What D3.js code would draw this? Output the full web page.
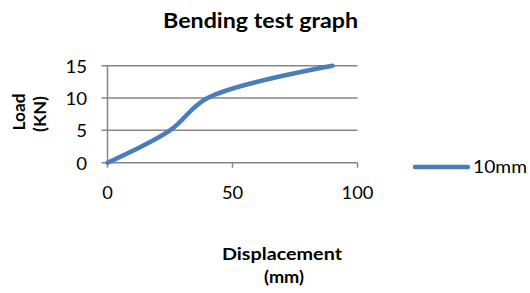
<!DOCTYPE html>
<html><head><meta charset="utf-8">
<script src="https://cdn.jsdelivr.net/npm/d3@7"></script>
<style>body{margin:0;background:#fff;} svg{display:block;font-family:Lato, "Open Sans", sans-serif;fill:#000;}</style>
</head><body><svg id="c" width="530" height="293"></svg>
<script>
const displacement = [0, 25, 40, 90];
const load = [0, 5, 10, 15];
const xTicks = [0, 50, 100];
const yTicks = [0, 5, 10, 15];
const seriesName = "10mm";
const title = "Bending test graph";
const xTitle = ["Displacement", "(mm)"];
const yTitle = ["Load", "(KN)"];

const svg = d3.select("#c");
const x = d3.scaleLinear().domain([0, 100]).range([107.5, 357.5]);
const y = d3.scaleLinear().domain([0, 15]).range([162.7, 65.7]);

function fit(sel, w) {
  sel.attr("textLength", w).attr("lengthAdjust", "spacingAndGlyphs");
}

svg.append("g").selectAll("line").data(yTicks).join("line")
  .attr("x1", x(0) - 6).attr("x2", x(100))
  .attr("y1", d => y(d)).attr("y2", d => y(d))
  .attr("stroke", "#868686").attr("stroke-width", 1.5);
svg.append("line").attr("x1", x(0)).attr("x2", x(0)).attr("y1", y(15)).attr("y2", y(0))
  .attr("stroke", "#868686").attr("stroke-width", 1.5);
svg.append("g").selectAll("line").data(xTicks).join("line")
  .attr("x1", d => x(d)).attr("x2", d => x(d)).attr("y1", y(0)).attr("y2", y(0) + 5)
  .attr("stroke", "#868686").attr("stroke-width", 1.5);

svg.append("g").selectAll("text").data(yTicks).join("text")
  .attr("x", 87).attr("y", d => y(d) + 7).attr("text-anchor", "end")
  .attr("font-size", 17.5).text(d => d)
  .each(function(d){ fit(d3.select(this), String(d).length * 10.8); });
svg.append("g").selectAll("text").data(xTicks).join("text")
  .attr("x", d => x(d)).attr("y", 199).attr("text-anchor", "middle")
  .attr("font-size", 17.5).text(d => d)
  .each(function(d){ fit(d3.select(this), String(d).length * 10.6); });

const pts = displacement.map((d, i) => [d, load[i]]);
svg.append("path").datum(pts)
  .attr("d", d3.line().x(d => x(d[0])).y(d => y(d[1])).curve(d3.curveCatmullRom.alpha(0.5)))
  .attr("fill", "none").attr("stroke", "#4A7EBB").attr("stroke-width", 4.5).attr("stroke-linecap", "round");

svg.append("text").attr("x", 260.5).attr("y", 27.5).attr("text-anchor", "middle")
  .attr("font-size", 21.5).attr("font-weight", "bold").text(title).call(fit, 195);

svg.append("text").attr("transform", "translate(25,112) rotate(-90)").attr("text-anchor", "middle")
  .attr("font-size", 17).attr("font-weight", "bold").text(yTitle[0]).call(fit, 37);
svg.append("text").attr("transform", "translate(45.5,114) rotate(-90)").attr("text-anchor", "middle")
  .attr("font-size", 17).attr("font-weight", "bold").text(yTitle[1]).call(fit, 36);

svg.append("text").attr("x", 282).attr("y", 259.5).attr("text-anchor", "middle")
  .attr("font-size", 17).attr("font-weight", "bold").text(xTitle[0]).call(fit, 120);
svg.append("text").attr("x", 284).attr("y", 282.5).attr("text-anchor", "middle")
  .attr("font-size", 17).attr("font-weight", "bold").text(xTitle[1]).call(fit, 40);

svg.append("line").attr("x1", 415).attr("x2", 468).attr("y1", 167).attr("y2", 167)
  .attr("stroke", "#4A7EBB").attr("stroke-width", 4.5).attr("stroke-linecap", "round");
svg.append("text").attr("x", 473).attr("y", 173).attr("font-size", 17.5).text(seriesName).call(fit, 54);
</script></body></html>
